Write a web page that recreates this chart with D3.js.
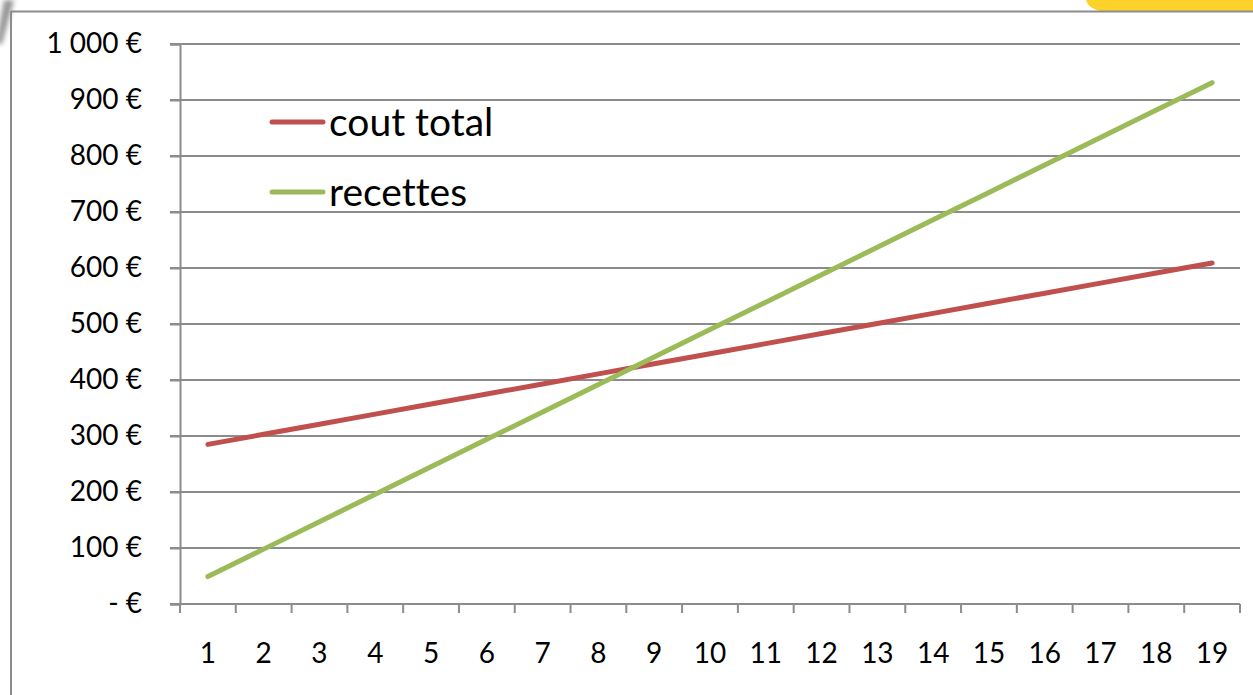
<!DOCTYPE html>
<html>
<head>
<meta charset="utf-8">
<script src="https://cdn.jsdelivr.net/npm/d3@7/dist/d3.min.js"></script>
<style>
  html, body { margin: 0; padding: 0; background: #fff; }
  svg { display: block; }
  text { font-family: Lato, "Open Sans", sans-serif; fill: #000; font-variant-ligatures: none; }
</style>
</head>
<body>
<svg id="chart" width="1253" height="695"></svg>
<script>
// Quantités produites (axe des catégories)
const quantites = [1, 2, 3, 4, 5, 6, 7, 8, 9, 10, 11, 12, 13, 14, 15, 16, 17, 18, 19];
// Coût total en euros
const coutTotal = [285, 303, 321, 339, 357, 375, 393, 411, 429, 447, 465, 483, 501, 519, 537, 555, 573, 591, 609];
// Recettes en euros
const recettes = [49, 98, 147, 196, 245, 294, 343, 392, 441, 490, 539, 588, 637, 686, 735, 784, 833, 882, 931];
// Graduations de l'axe des valeurs
const yTicks = [0, 100, 200, 300, 400, 500, 600, 700, 800, 900, 1000];
const seriesNames = ["cout total", "recettes"];
const seriesColors = ["#C0504D", "#9BBB59"];

const svg = d3.select("#chart");

// Décor de la diapositive : ombre en haut à gauche et bandeau jaune en haut à droite
const defs = svg.append("defs");
const blur = defs.append("filter").attr("id", "soft")
  .attr("x", "-50%").attr("y", "-50%").attr("width", "200%").attr("height", "200%");
blur.append("feGaussianBlur").attr("stdDeviation", 2.5);
svg.append("path")
  .attr("d", "M4,0 L14,0 L2,44 L-4,44 Z")
  .attr("fill", "#8a8a8a")
  .attr("opacity", 0.9)
  .attr("filter", "url(#soft)");
svg.append("path")
  .attr("d", "M1086,0 L1253,0 L1253,11 L1100,11 Q1088,8 1086,0 Z")
  .attr("fill", "#FDD22A");

// Cadre du graphique
svg.append("line").attr("x1", 11).attr("x2", 1253).attr("y1", 11.5).attr("y2", 11.5)
  .attr("stroke", "#8c8c8c").attr("stroke-width", 2);
svg.append("line").attr("x1", 11).attr("x2", 11).attr("y1", 11).attr("y2", 695)
  .attr("stroke", "#8c8c8c").attr("stroke-width", 2);

const plot = { left: 180, right: 1240, top: 44, bottom: 604 };

const x = d3.scaleBand().domain(quantites).range([plot.left, plot.right]).padding(0);
const y = d3.scaleLinear().domain([0, 1000]).range([plot.bottom, plot.top]);
const cx = d => x(d) + x.bandwidth() / 2;

const fmt = v => v === 0 ? "- €" : d3.format(",")(v).replace(/,/g, " ") + " €";

// Quadrillage horizontal
svg.append("g")
  .selectAll("line")
  .data(yTicks)
  .join("line")
  .attr("x1", plot.left - 10)
  .attr("x2", plot.right)
  .attr("y1", d => y(d))
  .attr("y2", d => y(d))
  .attr("stroke", "#8c8c8c")
  .attr("stroke-width", 2);

// Axe vertical
const yAxis = svg.append("g")
  .attr("transform", `translate(${plot.left},0)`)
  .call(d3.axisLeft(y).tickValues(yTicks).tickFormat(fmt).tickSize(10).tickPadding(28));
yAxis.select(".domain").attr("stroke", "#8c8c8c").attr("stroke-width", 2);
yAxis.selectAll(".tick line").attr("stroke", "#8c8c8c").attr("stroke-width", 2);
yAxis.selectAll(".tick text")
  .attr("font-family", "Lato, sans-serif")
  .attr("font-size", 28)
  .attr("fill", "#000");

// Axe horizontal (graduations entre les catégories)
const xAxis = svg.append("g")
  .attr("transform", `translate(0,${plot.bottom})`);
xAxis.append("line")
  .attr("x1", plot.left - 10).attr("x2", plot.right)
  .attr("stroke", "#8c8c8c").attr("stroke-width", 2);
xAxis.selectAll("line.tk")
  .data(quantites.concat([null]))
  .join("line")
  .attr("class", "tk")
  .attr("x1", (d, i) => i < quantites.length ? x(d) : plot.right)
  .attr("x2", (d, i) => i < quantites.length ? x(d) : plot.right)
  .attr("y1", 0).attr("y2", 9)
  .attr("stroke", "#8c8c8c").attr("stroke-width", 2);
xAxis.selectAll("text")
  .data(quantites)
  .join("text")
  .attr("x", d => cx(d))
  .attr("y", 59)
  .attr("text-anchor", "middle")
  .attr("font-size", 28)
  .text(d => d);

// Courbes
const line = d3.line().x((d, i) => cx(quantites[i])).y(d => y(d));
[coutTotal, recettes].forEach((serie, k) => {
  svg.append("path")
    .datum(serie)
    .attr("d", line)
    .attr("fill", "none")
    .attr("stroke", seriesColors[k])
    .attr("stroke-width", 5)
    .attr("stroke-linecap", "round")
    .attr("stroke-linejoin", "round");
});

// Légende
const legend = svg.append("g");
const legendY = [122, 192];
seriesNames.forEach((name, k) => {
  legend.append("line")
    .attr("x1", 272).attr("x2", 323)
    .attr("y1", legendY[k]).attr("y2", legendY[k])
    .attr("stroke", seriesColors[k])
    .attr("stroke-width", 5)
    .attr("stroke-linecap", "round");
  legend.append("text")
    .attr("x", 329)
    .attr("y", legendY[k])
    .attr("dy", "0.35em")
    .attr("font-size", 39)
    .text(name);
});
</script>
</body>
</html>
